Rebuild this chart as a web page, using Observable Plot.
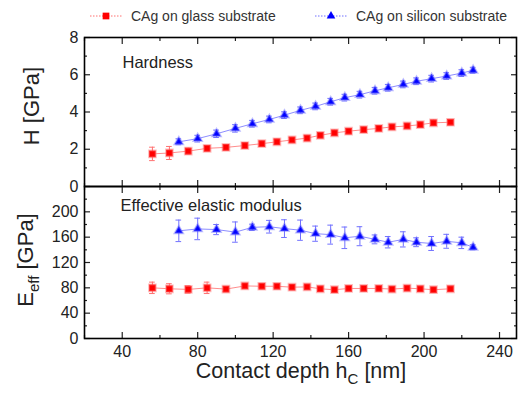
<!DOCTYPE html>
<html><head><meta charset="utf-8">
<script src="https://cdn.jsdelivr.net/npm/d3@7"></script>
<script src="https://cdn.jsdelivr.net/npm/@observablehq/plot@0.6"></script>
<style>
body{margin:0;background:#fff;font-family:Arial,"Liberation Sans",sans-serif;}
#chart{position:relative;width:519px;height:394px;overflow:hidden;background:#fff}
#chart svg{position:absolute;left:0;overflow:visible}
#legend{position:absolute;left:0;top:0;width:519px;height:32px;font-size:14px;color:#333}
.li{position:absolute;top:8px;display:flex;align-items:center;white-space:nowrap}
</style></head><body><div id="chart"><div id="legend"></div></div>
<script>
// ---- data ----
const seriesNames = ["CAg on glass substrate", "CAg on silicon substrate"];
const depthGlass = [56, 65, 75, 85, 95, 105, 114, 122, 130, 138, 145, 152.5, 160, 168, 176, 183, 191, 198, 205, 214];
const hardGlass = [1.75, 1.8, 1.9, 2.05, 2.1, 2.2, 2.3, 2.4, 2.5, 2.6, 2.75, 2.88, 2.97, 3.05, 3.12, 3.2, 3.25, 3.32, 3.42, 3.45];
const hardGlassErr = [0.36, 0.35, 0.16, 0.15, 0.14, 0.14, 0.14, 0.14, 0.14, 0.14, 0.14, 0.14, 0.14, 0.14, 0.14, 0.14, 0.14, 0.14, 0.14, 0.14];
const modGlass = [80, 78.5, 77.5, 80, 78, 83, 82.5, 82.5, 81, 81.5, 78.5, 77, 79, 79, 79, 78, 79.5, 78.5, 77, 78.5];
const modGlassErr = [9, 8, 6, 9, 4, 2, 2, 2, 2, 2, 2, 2, 2, 2, 2, 2, 2, 2, 2, 2];
const depthSilicon = [70, 80, 90, 100, 109, 118, 126, 134.5, 142.5, 150.5, 158, 166, 174, 181, 189, 196, 204, 212, 220, 226];
const hardSilicon = [2.4, 2.57, 2.83, 3.12, 3.37, 3.6, 3.83, 4.09, 4.3, 4.55, 4.77, 4.93, 5.14, 5.3, 5.48, 5.65, 5.79, 5.93, 6.09, 6.24];
const hardSiliconErr = [0.16, 0.18, 0.2, 0.2, 0.18, 0.18, 0.18, 0.18, 0.18, 0.18, 0.18, 0.18, 0.18, 0.18, 0.18, 0.18, 0.18, 0.18, 0.18, 0.16];
const modSilicon = [170, 173, 172, 168, 175.5, 176.5, 173.5, 171, 165.5, 164, 159, 161.5, 156.5, 152, 156.5, 152, 150, 153.5, 151, 144];
const modSiliconErr = [17, 17, 8, 16, 5, 10, 14, 16, 12, 15, 17, 15, 7, 9, 12, 7, 11, 11, 9, 4];
const xTickLabels = [40, 80, 120, 160, 200, 240];
const xMinorTicks = [20, 60, 100, 140, 180, 220];
const hTickLabels = [0, 2, 4, 6, 8];
const hMinorTicks = [1, 3, 5, 7];
const eTickLabels = [0, 40, 80, 120, 160, 200];
const eMinorTicks = [20, 60, 100, 140, 180, 220];

const RED = "#ff0000", BLUE = "#0000ff", RED_L = "#ff7070", BLUE_L = "#7070ff";
const glassRows = depthGlass.map((x, i) => ({x, h: hardGlass[i], he: hardGlassErr[i], e: modGlass[i], ee: modGlassErr[i]}));
const siliconRows = depthSilicon.map((x, i) => ({x, h: hardSilicon[i], he: hardSiliconErr[i], e: modSilicon[i], ee: modSiliconErr[i]}));

const W = 519, ML = 84, MR = 3;
const xDomain = [20, 249];
const FONT = "Arial, 'Liberation Sans', sans-serif";
const CAP = 1.5;

function tickMarks(yMajor, yMinor, showXLabels) {
  const none = () => "";
  return [
    Plot.axisX(xTickLabels, {anchor: "bottom", tickSize: -6, tickPadding: showXLabels ? 13 : 0, tickFormat: showXLabels ? d => d : none, label: null, strokeWidth: 1.2}),
    Plot.axisX(xMinorTicks, {anchor: "bottom", tickSize: -3, tickFormat: none, label: null, strokeWidth: 1.2}),
    Plot.axisX(xTickLabels, {anchor: "top", tickSize: -6, tickFormat: none, label: null, strokeWidth: 1.2}),
    Plot.axisX(xMinorTicks, {anchor: "top", tickSize: -3, tickFormat: none, label: null, strokeWidth: 1.2}),
    Plot.axisY(yMajor, {anchor: "left", tickSize: -6, tickPadding: 12, label: null, strokeWidth: 1.2}),
    Plot.axisY(yMinor, {anchor: "left", tickSize: -3, tickFormat: none, label: null, strokeWidth: 1.2}),
    Plot.axisY(yMajor, {anchor: "right", tickSize: -6, tickFormat: none, label: null, strokeWidth: 1.2}),
    Plot.axisY(yMinor, {anchor: "right", tickSize: -3, tickFormat: none, label: null, strokeWidth: 1.2}),
    Plot.frame({stroke: "#000", strokeWidth: 1.6})
  ];
}

function seriesMarks(rows, key, errKey, light, color, symbol, r) {
  return [
    Plot.line(rows, {x: "x", y: key, stroke: light, strokeWidth: 1, strokeOpacity: 0.8}),
    Plot.ruleX(rows, {x: "x", y1: d => d[key] - d[errKey], y2: d => d[key] + d[errKey], stroke: light, strokeWidth: 1}),
    Plot.ruleY(rows, {y: d => d[key] - d[errKey], x1: d => d.x - CAP, x2: d => d.x + CAP, stroke: light, strokeWidth: 1}),
    Plot.ruleY(rows, {y: d => d[key] + d[errKey], x1: d => d.x - CAP, x2: d => d.x + CAP, stroke: light, strokeWidth: 1}),
    Plot.dot(rows, {x: "x", y: key, symbol, r, fill: color, stroke: light, strokeOpacity: 0.45, strokeWidth: 2})
  ];
}

const chart = document.getElementById("chart");

// top panel: Hardness
const topPlot = Plot.plot({
  width: W, height: 196, marginLeft: ML, marginRight: MR, marginTop: 37, marginBottom: 10,
  style: {fontSize: "16px", fontFamily: FONT, background: "transparent", color: "#222", overflow: "visible"},
  x: {domain: xDomain, axis: null},
  y: {domain: [0, 8], axis: null},
  marks: [
    ...seriesMarks(glassRows, "h", "he", RED_L, RED, "square", 3.8),
    ...seriesMarks(siliconRows, "h", "he", BLUE_L, BLUE, "triangle", 3.1),
    ...tickMarks(hTickLabels, hMinorTicks, false),
    Plot.text(["Hardness"], {frameAnchor: "top-left", dx: 38, dy: 19, textAnchor: "start", lineAnchor: "top", fontSize: 16.5, fill: "#222"})
  ]
});
topPlot.style.top = "0px";
chart.appendChild(topPlot);

// bottom panel: Effective elastic modulus
const bottomPlot = Plot.plot({
  width: W, height: 208, marginLeft: ML, marginRight: MR, marginTop: 0, marginBottom: 56,
  style: {fontSize: "16px", fontFamily: FONT, background: "transparent", color: "#222", overflow: "visible"},
  x: {domain: xDomain, axis: null},
  y: {domain: [0, 240], axis: null},
  marks: [
    ...seriesMarks(glassRows, "e", "ee", RED_L, RED, "square", 3.8),
    ...seriesMarks(siliconRows, "e", "ee", BLUE_L, BLUE, "triangle", 3.1),
    ...tickMarks(eTickLabels, eMinorTicks, true),
    Plot.text(["Effective elastic modulus"], {frameAnchor: "top-left", dx: 36, dy: 13, textAnchor: "start", lineAnchor: "top", fontSize: 16.5, fill: "#222"})
  ]
});
bottomPlot.style.top = "186px";
chart.appendChild(bottomPlot);

// axis titles
d3.select(topPlot).append("text")
  .attr("transform", "translate(39,106) rotate(-90)")
  .attr("text-anchor", "middle").attr("font-size", 22).attr("fill", "#222")
  .text("H [GPa]");
const et = d3.select(bottomPlot).append("text")
  .attr("transform", "translate(33,74) rotate(-90)")
  .attr("text-anchor", "middle").attr("font-size", 22).attr("fill", "#222");
et.append("tspan").text("E");
et.append("tspan").attr("font-size", 15).attr("dy", 6).text("eff");
et.append("tspan").attr("dy", -6).text(" [GPa]");
const xt = d3.select(bottomPlot).append("text")
  .attr("x", 301).attr("y", 192)
  .attr("text-anchor", "middle").attr("font-size", 21.5).attr("fill", "#222");
xt.append("tspan").text("Contact depth h");
xt.append("tspan").attr("font-size", 15).attr("dy", 6).text("C");
xt.append("tspan").attr("dy", -6).text(" [nm]");

// legend
const legend = document.getElementById("legend");
const items = [
  {name: seriesNames[0], color: RED, light: RED_L, sym: "square", left: 90},
  {name: seriesNames[1], color: BLUE, light: BLUE_L, sym: "triangle", left: 315}
];
items.forEach(it => {
  const div = document.createElement("div");
  div.className = "li";
  div.style.left = it.left + "px";
  const s = d3.create("svg").attr("width", 34).attr("height", 16).style("position", "static");
  s.append("line").attr("x1", 0).attr("x2", 32).attr("y1", 8).attr("y2", 8).attr("stroke", it.light).attr("stroke-dasharray", "1.5,1.5");
  s.append("path").attr("transform", "translate(16,8)").attr("d", d3.symbol(it.sym === "square" ? d3.symbolSquare : d3.symbolTriangle, it.sym === "square" ? 45 : 32)()).attr("fill", it.color);
  div.appendChild(s.node());
  const t = document.createElement("span");
  t.style.marginLeft = "7px";
  t.textContent = it.name;
  div.appendChild(t);
  legend.appendChild(div);
});
</script></body></html>
